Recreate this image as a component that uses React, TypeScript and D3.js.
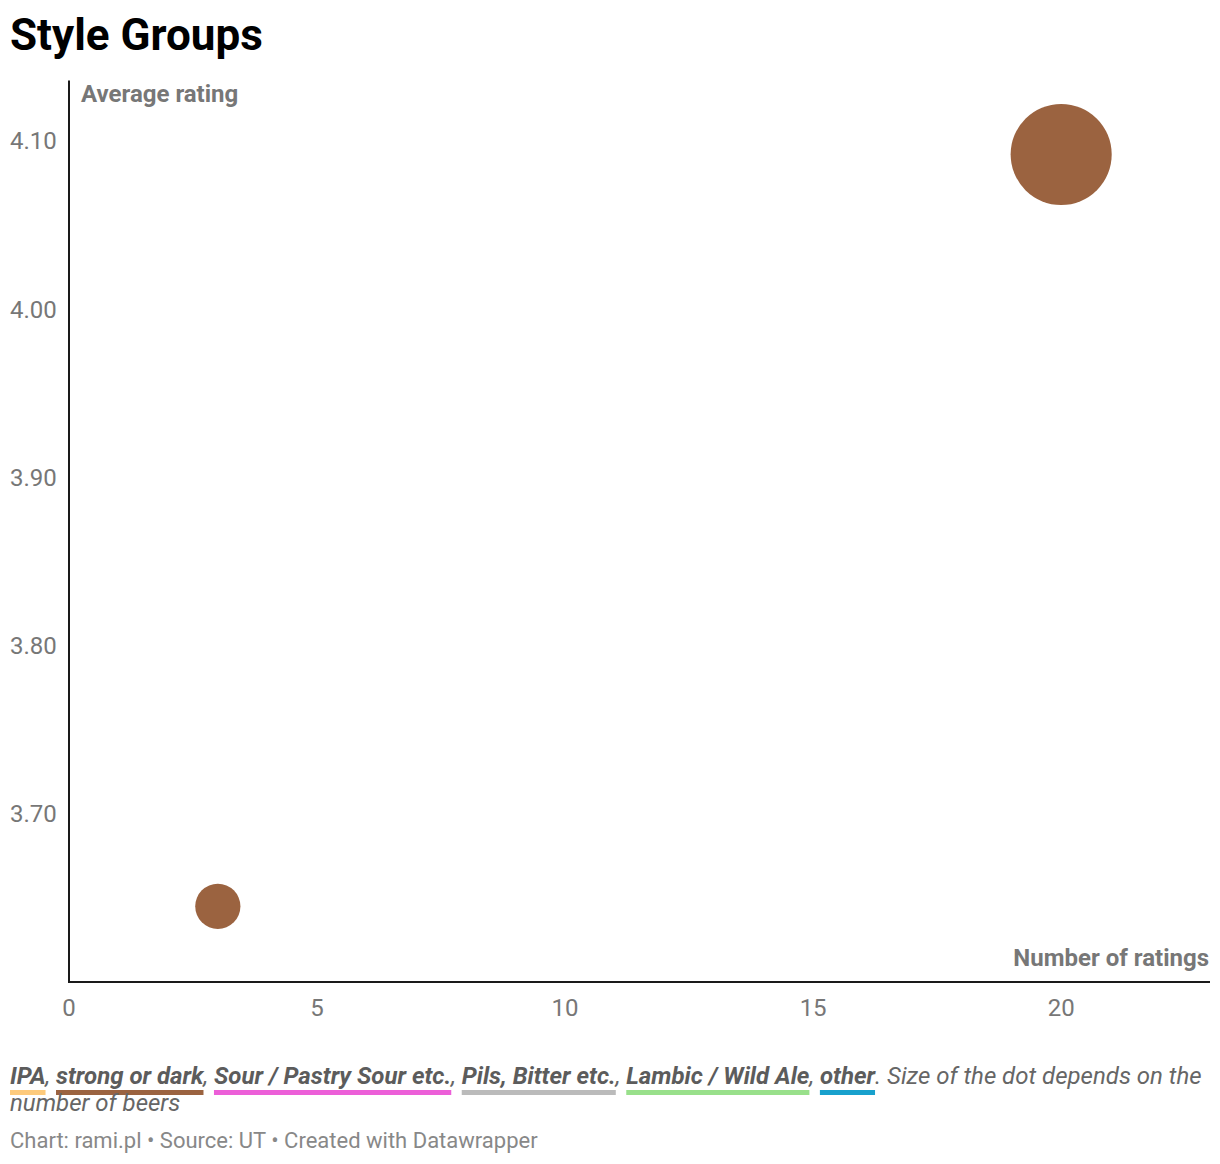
import React, { useEffect, useRef } from "react";
import * as d3 from "d3";

// chart data
const styleGroup = ["strong or dark", "strong or dark"];
const numRatings = [3, 20];
const avgRating = [3.645, 4.092];
const numBeers = [1, 5];

const xTicks = [0, 5, 10, 15, 20];
const yTicks = [3.7, 3.8, 3.9, 4.0, 4.1];

const legendNames = ["IPA", "strong or dark", "Sour / Pastry Sour etc.", "Pils, Bitter etc.", "Lambic / Wild Ale", "other"];
const legendColors = ["#fdca7c", "#9b6340", "#ec5fd8", "#bbbbbb", "#99e08b", "#18a1cd"];

const W = 1220;
const H = 1164;
const FONT = "Roboto, 'Noto Sans', sans-serif";

const App = () => {
  const ref = useRef(null);

  useEffect(() => {
    document.body.style.margin = "0";
    const svg = d3.select(ref.current);
    svg.selectAll("*").remove();

    const x = d3.scaleLinear().domain([0, 23]).range([69, 1210]);
    const y = d3.scaleLinear().domain([3.6, 4.1]).range([982, 141]);
    const r = d3.scaleSqrt().domain([0, 1]).range([0, 22.6]);
    const color = d3.scaleOrdinal<string, string>().domain(legendNames).range(legendColors);

    // title
    svg
      .append("text")
      .attr("x", 10)
      .attr("y", 50)
      .style("font-family", FONT)
      .style("font-weight", 700)
      .style("font-size", "44px")
      .attr("fill", "#000")
      .text("Style Groups");

    // y tick labels
    svg
      .append("g")
      .selectAll("text")
      .data(yTicks)
      .join("text")
      .attr("x", 10)
      .attr("y", (d) => y(d))
      .attr("dy", "0.35em")
      .style("font-family", FONT)
      .style("font-size", "24px")
      .attr("fill", "#777")
      .text((d) => d3.format(".2f")(d));

    // x tick labels
    svg
      .append("g")
      .selectAll("text")
      .data(xTicks)
      .join("text")
      .attr("x", (d) => x(d))
      .attr("y", 1016)
      .attr("text-anchor", "middle")
      .style("font-family", FONT)
      .style("font-size", "24px")
      .attr("fill", "#777")
      .text((d) => d);

    // axis lines
    svg
      .append("line")
      .attr("x1", x(0))
      .attr("x2", x(0))
      .attr("y1", y(4.136))
      .attr("y2", y(3.6) + 1)
      .attr("stroke", "#1a1a1a")
      .attr("stroke-width", 2);
    svg
      .append("line")
      .attr("x1", x(0) - 1)
      .attr("x2", x(23))
      .attr("y1", y(3.6))
      .attr("y2", y(3.6))
      .attr("stroke", "#1a1a1a")
      .attr("stroke-width", 2);

    // axis titles
    svg
      .append("text")
      .attr("x", 81)
      .attr("y", 102)
      .style("font-family", FONT)
      .style("font-weight", 700)
      .style("font-size", "24px")
      .attr("fill", "#777")
      .text("Average rating");
    svg
      .append("text")
      .attr("x", 1209)
      .attr("y", 966)
      .attr("text-anchor", "end")
      .style("font-family", FONT)
      .style("font-weight", 700)
      .style("font-size", "24px")
      .attr("fill", "#777")
      .text("Number of ratings");

    // dots
    const dots = styleGroup.map((g, i) => ({ g, x: numRatings[i], y: avgRating[i], n: numBeers[i] }));
    svg
      .append("g")
      .selectAll("circle")
      .data(dots)
      .join("circle")
      .attr("cx", (d) => x(d.x))
      .attr("cy", (d) => y(d.y))
      .attr("r", (d) => r(d.n))
      .attr("fill", (d) => color(d.g));

    // legend line (measured piece by piece)
    const leg = svg.append("g");
    let cx = 10;
    const baseY = 1084;
    const addPiece = (txt: string, bold: boolean, fill: string) => {
      const t = leg
        .append("text")
        .attr("x", cx)
        .attr("y", baseY)
        .style("font-family", FONT)
        .style("font-style", "italic")
        .style("font-weight", bold ? 700 : 400)
        .style("font-size", "24px")
        .attr("fill", fill)
        .attr("xml:space", "preserve")
        .style("white-space", "pre")
        .text(txt);
      const w = (t.node() as SVGTextElement).getComputedTextLength();
      const start = cx;
      cx += w;
      return { start, w };
    };
    legendNames.forEach((name, i) => {
      const p = addPiece(name, true, "#5c5c5c");
      leg
        .insert("rect", ":first-child")
        .attr("x", p.start)
        .attr("y", 1090)
        .attr("width", p.w)
        .attr("height", 5)
        .attr("fill", legendColors[i]);
      addPiece(i < legendNames.length - 1 ? ", " : ". ", false, "#666");
    });
    addPiece("Size of the dot depends on the", false, "#666");

    leg
      .append("text")
      .attr("x", 10)
      .attr("y", 1111)
      .style("font-family", FONT)
      .style("font-style", "italic")
      .style("font-size", "24px")
      .attr("fill", "#666")
      .text("number of beers");

    // footer
    svg
      .append("text")
      .attr("x", 10)
      .attr("y", 1148)
      .style("font-family", FONT)
      .style("font-size", "22px")
      .attr("fill", "#888")
      .text("Chart: rami.pl \u2022 Source: UT \u2022 Created with Datawrapper");
  }, []);

  return <svg ref={ref} width={W} height={H} style={{ display: "block", background: "#fff" }}></svg>;
};

export default App;
